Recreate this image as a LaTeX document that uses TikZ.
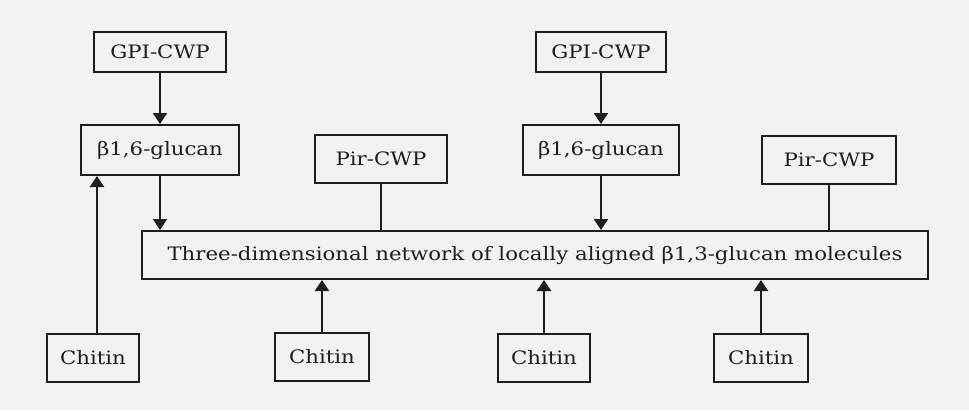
\documentclass[tikz,border=0pt]{standalone}
\usepackage{fontspec}
\setmainfont{DejaVu Serif}[FakeStretch=1.15]
\usetikzlibrary{arrows.meta}
\definecolor{bg}{HTML}{F3F1F4}
\definecolor{ink}{HTML}{1E1E1E}
\tikzset{
  box/.style={draw=ink, line width=2pt, inner sep=0pt, font=\fontsize{18.5}{20}\selectfont, text=ink},
  link/.style={draw=ink, line width=2pt},
  arr/.style={link, -{Triangle[length=11pt,width=14pt]}}
}
\begin{document}
\begin{tikzpicture}[x=1pt,y=-1pt]
\fill[bg] (0,0) rectangle (969,410);
\useasboundingbox (0,0) rectangle (969,410);
\node[box, minimum width=132pt, minimum height=40pt] (gpi1) at (160,52) {GPI-CWP};
\node[box, minimum width=158pt, minimum height=50pt] (b1) at (160,150) {β1,6-glucan};
\node[box, minimum width=132pt, minimum height=48pt] (pir1) at (381,159) {Pir-CWP};
\node[box, minimum width=130pt, minimum height=40pt] (gpi2) at (601,52) {GPI-CWP};
\node[box, minimum width=156pt, minimum height=50pt] (b2) at (601,150) {β1,6-glucan};
\node[box, minimum width=134pt, minimum height=48pt] (pir2) at (829,160) {Pir-CWP};
\node[box, minimum width=786pt, minimum height=48pt] (net) at (535,255) {Three-dimensional network of locally aligned β1,3-glucan molecules};
\node[box, minimum width=92pt, minimum height=48pt] (ch1) at (93,358) {Chitin};
\node[box, minimum width=94pt, minimum height=48pt] (ch2) at (322,357) {Chitin};
\node[box, minimum width=92pt, minimum height=48pt] (ch3) at (544,358) {Chitin};
\node[box, minimum width=94pt, minimum height=48pt] (ch4) at (761,358) {Chitin};
\draw[arr] (gpi1.south) -- (b1.north);
\draw[arr] (gpi2.south) -- (b2.north);
\draw[arr] (b1.south) -- (b1.south |- net.north);
\draw[arr] (b2.south) -- (b2.south |- net.north);
\draw[link] (pir1.south) -- (pir1.south |- net.north);
\draw[link] (pir2.south) -- (pir2.south |- net.north);
\draw[arr] ([xshift=4pt]ch1.north) -- ([xshift=4pt]ch1.north |- b1.south);
\draw[arr] (ch2.north) -- (ch2.north |- net.south);
\draw[arr] (ch3.north) -- (ch3.north |- net.south);
\draw[arr] (ch4.north) -- (ch4.north |- net.south);
\end{tikzpicture}
\end{document}
